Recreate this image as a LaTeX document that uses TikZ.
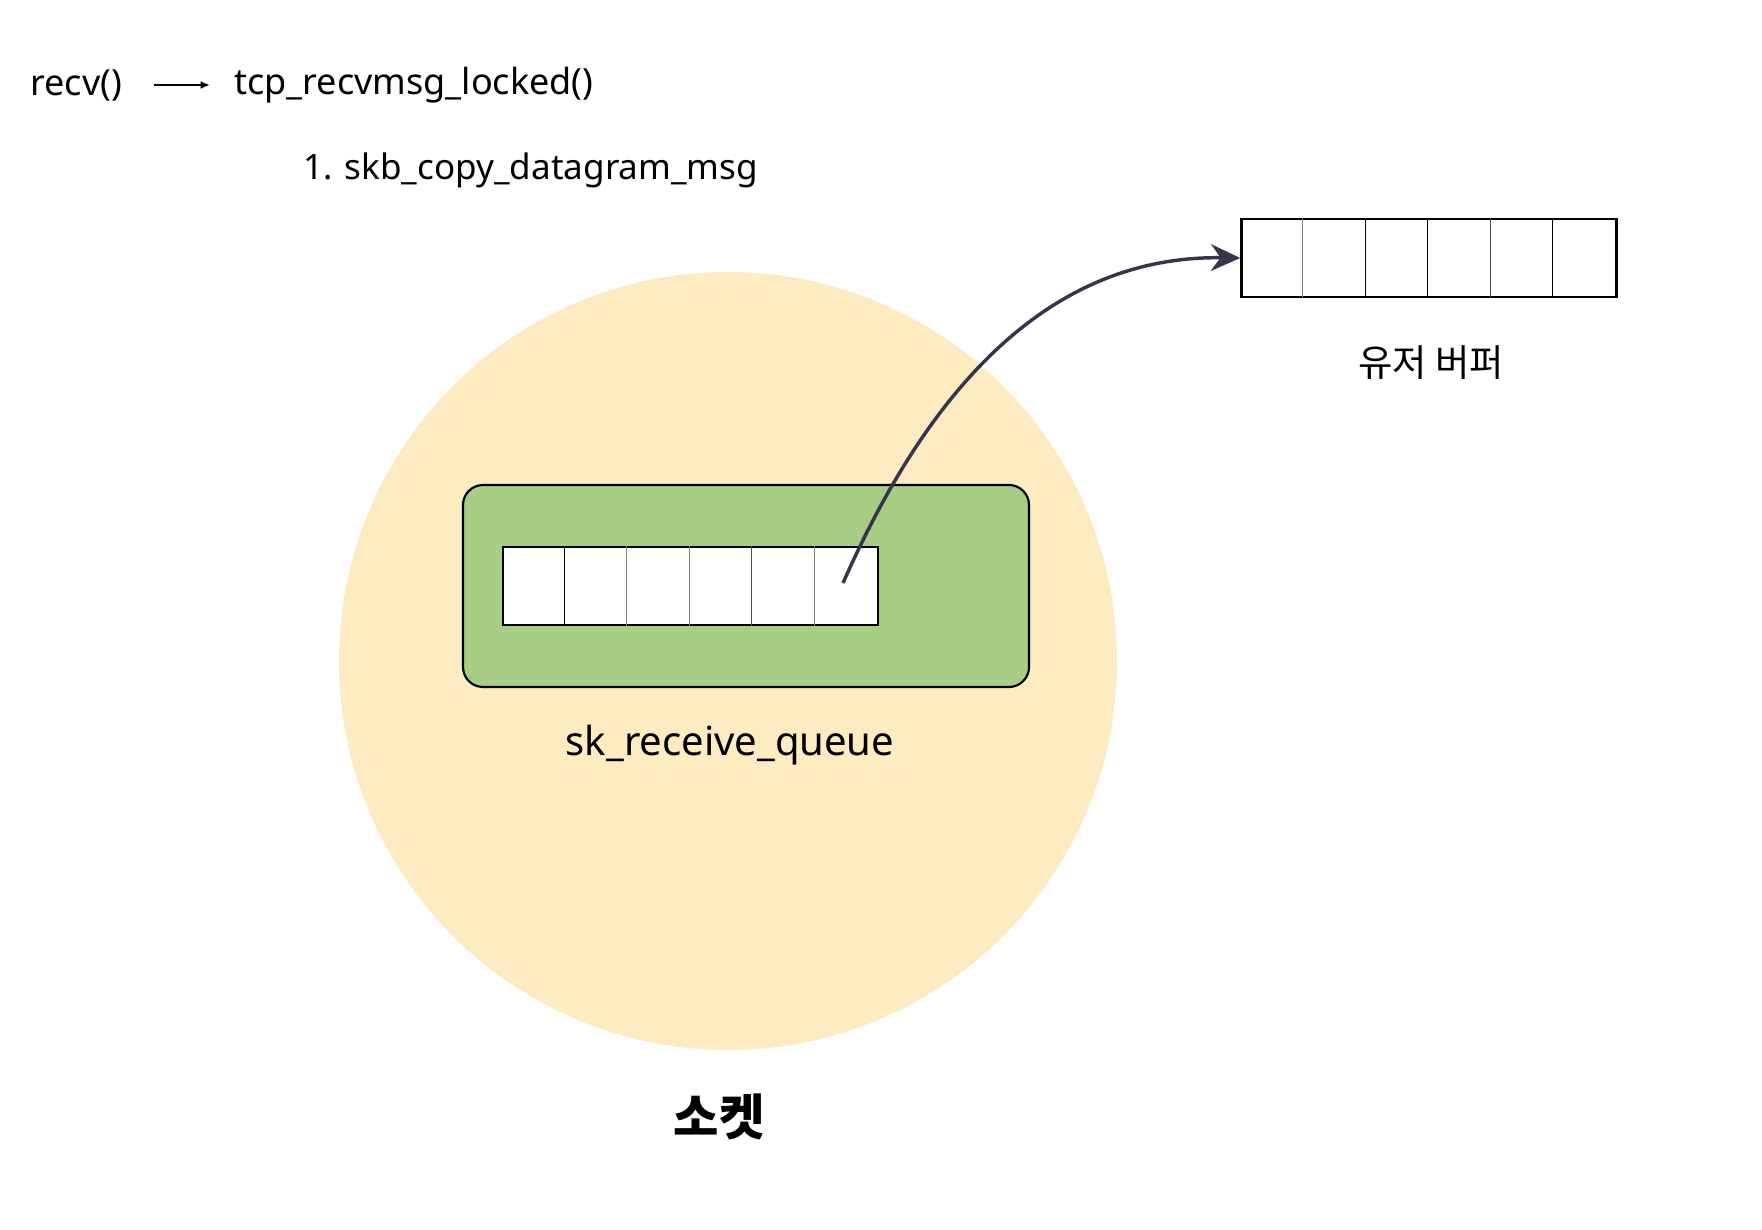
\documentclass[tikz,border=0pt]{standalone}
\usepackage{fontspec}
\setmainfont{Noto Sans}
\newfontfamily\kr{Noto Sans CJK KR}
\usetikzlibrary{arrows.meta}
\definecolor{sockfill}{RGB}{253,236,194}
\definecolor{queuefill}{RGB}{168,205,132}
\definecolor{arrowcol}{RGB}{55,53,75}
\tikzset{
  buffer/.style={draw, fill=white, line width=1.8pt, minimum width=281.25pt, minimum height=58.5pt, inner sep=0pt},
  txt/.style={font=\fontsize{27}{32}\selectfont, inner sep=0pt},
}
\begin{document}
\begin{tikzpicture}[x=0.75pt,y=0.75pt,yscale=-1,xscale=1]
        \useasboundingbox (0,0) rectangle (1762,1230);
        % socket and its receive queue
        \node [circle, fill=sockfill, minimum size=583.5pt, inner sep=0pt] (sock) at (728,661) {};
        \node [draw, fill=queuefill, rounded corners=15pt, line width=1.6pt, minimum width=424.5pt, minimum height=151.5pt] (queue) at (746,586) {};
        \node [buffer] (qbuf) at (690.5,586) {};
        \foreach \i/\c in {1/black,2/gray,3/gray,4/black!70,5/gray}
          \draw [\c, line width=0.9pt] ([xshift=\i*46.875pt]qbuf.north west) -- ([xshift=\i*46.875pt]qbuf.south west);
        % user buffer
        \node [buffer] (ubuf) at (1429,258) {};
        \foreach \i/\c in {1/gray,2/black,3/black,4/black!70,5/black}
          \draw [\c, line width=0.9pt] ([xshift=\i*46.875pt]ubuf.north west) -- ([xshift=\i*46.875pt]ubuf.south west);
        % call chain
        \node [txt, anchor=west] (recv) at (30,85) {recv()};
        \node [txt, anchor=west] (tcp) at (234,85) {tcp\_recvmsg\_locked()};
        \draw [line width=2pt, -{Latex[length=7pt,width=6pt]}, shorten <=24pt, shorten >=18pt] (recv.east) -- (tcp.west);
        \node [txt, anchor=west, font=\fontsize{26.3}{31}\selectfont] (copy) at (303,170) {1. skb\_copy\_datagram\_msg};
        % labels
        \node [txt, font=\fontsize{30}{36}\selectfont] (qlabel) at (730,745) {sk\_receive\_queue};
        \node [txt, font=\kr\fontsize{28}{33}\selectfont] (ulabel) at (1431,363) {유저 버퍼};
        \node [txt, font=\kr\bfseries\fontsize{37}{44}\selectfont] (slabel) at (719,1117) {소켓};
        % copy to user space
        \coordinate (src) at (843,583);
        \draw [arrowcol, line width=2.6pt, -{Stealth[length=22pt,width=20pt]}] (src) .. controls (915,420) and (1030,255) .. (ubuf.west);
\end{tikzpicture}
\end{document}
